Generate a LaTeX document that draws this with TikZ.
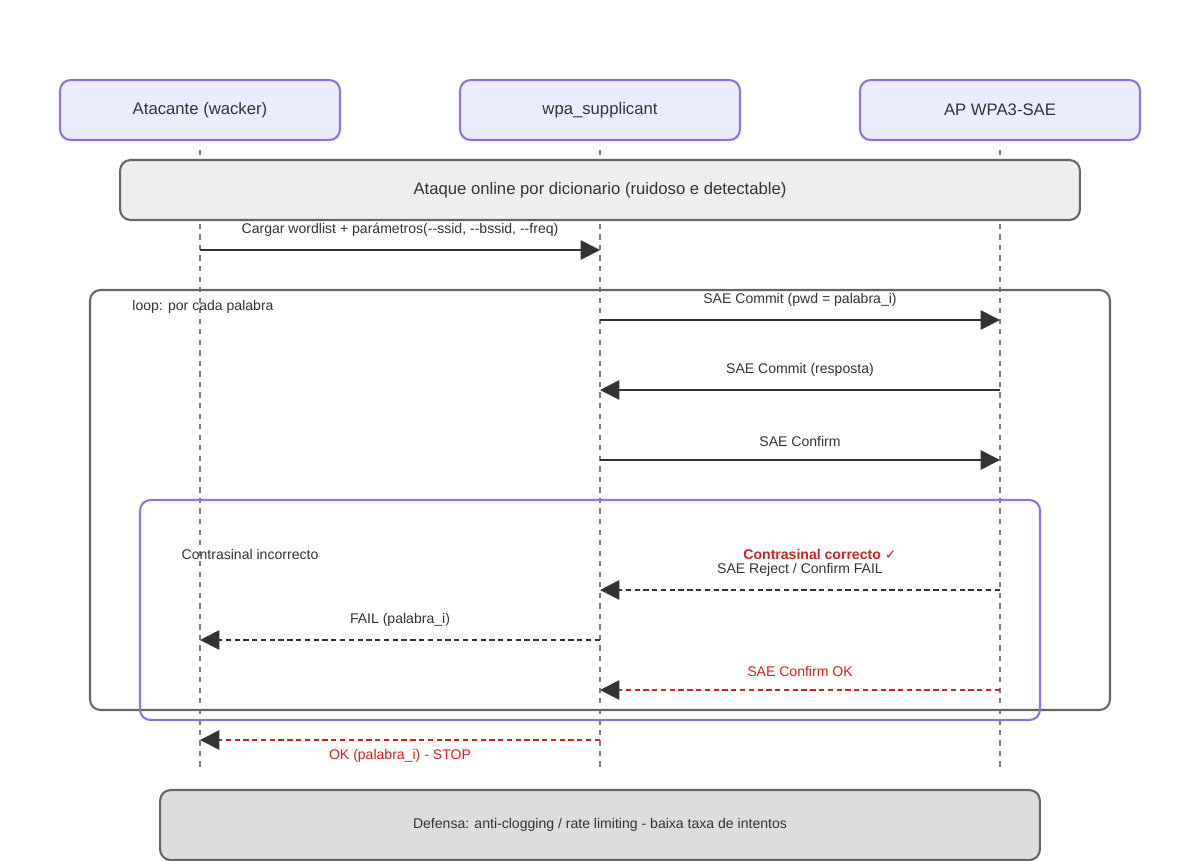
\documentclass[tikz,border=0pt]{standalone}
\usepackage{fontspec}
\setmainfont{Liberation Sans}
\newfontfamily\symfont{DejaVu Sans}
\usetikzlibrary{arrows.meta,positioning}
\definecolor{actfill}{HTML}{ECECFF}
\definecolor{actdraw}{HTML}{9370DB}
\definecolor{notefill}{HTML}{EEEEEE}
\definecolor{deffill}{HTML}{DDDDDD}
\definecolor{boxdraw}{HTML}{666666}
\definecolor{msg}{HTML}{333333}
\definecolor{okred}{HTML}{CC2222}
\tikzset{
    actor/.style={draw=actdraw, fill=actfill, rounded corners=6pt, line width=1.2pt, minimum width=5.6cm, minimum height=1.2cm, text=msg, font=\fontsize{9.5}{11}\selectfont},
    lifeline/.style={dashed, gray, line width=0.9pt},
    msgarrow/.style={-{Triangle[length=11pt,width=11pt]}, msg, line width=1pt},
    reply/.style={msgarrow, densely dashed},
    lbl/.style={text=msg, font=\fontsize{8}{10}\selectfont, inner sep=0pt}
}
\begin{document}
\begin{tikzpicture}[x=0.02cm, y=-0.02cm]
        \useasboundingbox (0,0) rectangle (1200,860);

        % Actors
        \node[actor] (wacker) at (200,110) {Atacante (wacker)};
        \node[actor] (supp) at (600,110) {wpa\_supplicant};
        \node[actor] (ap) at (1000,110) {AP WPA3-SAE};

        % Lifelines
        \coordinate (wTop) at (200,150); \coordinate (wBot) at (200,770);
        \coordinate (sTop) at (600,150); \coordinate (sBot) at (600,770);
        \coordinate (aTop) at (1000,150); \coordinate (aBot) at (1000,770);
        \draw[lifeline] (wTop) -- (wBot);
        \draw[lifeline] (sTop) -- (sBot);
        \draw[lifeline] (aTop) -- (aBot);

        % Note and frames
        \node[draw=boxdraw, fill=notefill, rounded corners=6pt, line width=1.2pt, minimum width=19.2cm, minimum height=1.2cm, text=msg, font=\fontsize{9.5}{11}\selectfont] (note) at (600,190) {Ataque online por dicionario (ruidoso e detectable)};
        \draw[boxdraw, rounded corners=6pt, line width=1.2pt] (90,290) rectangle (1110,710);
        \node[lbl] (loopLbl) at (203,307) {loop: por cada palabra};
        \draw[actdraw, rounded corners=6pt, line width=1.2pt] (140,500) rectangle (1040,720);

        % Messages
        \coordinate (w250) at (200,250); \coordinate (s250) at (600,250);
        \draw[msgarrow] (w250) -- (s250) node[lbl, midway, above=7pt] {Cargar wordlist + parámetros(-{}-ssid, -{}-bssid, -{}-freq)};
        \coordinate (s320) at (600,320); \coordinate (a320) at (1000,320);
        \draw[msgarrow] (s320) -- (a320) node[lbl, midway, above=7pt] {SAE Commit (pwd = palabra\_i)};
        \coordinate (s390) at (600,390); \coordinate (a390) at (1000,390);
        \draw[msgarrow] (a390) -- (s390) node[lbl, midway, above=7pt] {SAE Commit (resposta)};
        \coordinate (s460) at (600,460); \coordinate (a460) at (1000,460);
        \draw[msgarrow] (s460) -- (a460) node[lbl, midway, above=7pt] {SAE Confirm};

        % Alternatives
        \node[lbl] (wrong) at (250,554) {Contrasinal incorrecto};
        \node[lbl, text=okred, font=\fontsize{8}{10}\selectfont\bfseries] (right) at (820,554) {Contrasinal correcto {\symfont\mdseries ✓}};
        \coordinate (s590) at (600,590); \coordinate (a590) at (1000,590);
        \draw[reply] (a590) -- (s590) node[lbl, midway, above=7pt] {SAE Reject / Confirm FAIL};
        \coordinate (w640) at (200,640); \coordinate (s640) at (600,640);
        \draw[reply] (s640) -- (w640) node[lbl, midway, above=7pt] {FAIL (palabra\_i)};
        \coordinate (s690) at (600,690); \coordinate (a690) at (1000,690);
        \draw[reply, okred, -{Triangle[length=11pt,width=11pt,fill=msg,color=msg]}] (a690) -- (s690) node[lbl, text=okred, midway, above=7pt] {SAE Confirm OK};
        \coordinate (w740) at (200,740); \coordinate (s740) at (600,740);
        \draw[reply, okred, -{Triangle[length=11pt,width=11pt,fill=msg,color=msg]}] (s740) -- (w740) node[lbl, text=okred, midway, below=5pt] {OK (palabra\_i) - STOP};

        % Defense
        \node[draw=boxdraw, fill=deffill, rounded corners=6pt, line width=1.2pt, minimum width=17.6cm, minimum height=1.4cm, text=msg, font=\fontsize{8}{10}\selectfont] (defense) at (600,825) {Defensa: anti-clogging / rate limiting - baixa taxa de intentos};
\end{tikzpicture}
\end{document}
